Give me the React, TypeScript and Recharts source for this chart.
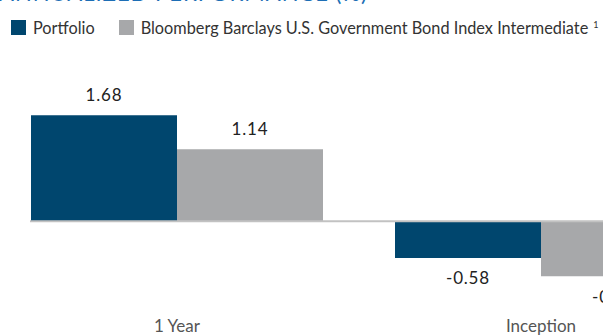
import { BarChart, Bar, XAxis, YAxis, ReferenceLine, LabelList } from 'recharts'

const periods = ['1 Year', 'Inception']
const portfolio = [1.68, -0.58]
const benchmark = [1.14, -0.87]
const seriesNames = ['Portfolio', 'Bloomberg Barclays U.S. Government Bond Index Intermediate']
const seriesColors = ['#00466e', '#a7a8aa']
const title = 'ANNUALIZED PERFORMANCE (%)'

const data = periods.map((p, i) => ({ period: p, portfolio: portfolio[i], benchmark: benchmark[i] }))

const FONT = 'Lato, "Noto Sans", sans-serif'

function ValueLabel(props: any) {
  const { x, y, width, height, value } = props
  const top = Math.min(y, y + height)
  const bottom = Math.max(y, y + height)
  const cy = value >= 0 ? top - 21 : bottom + 20
  return (
    <text x={x + width / 2} y={cy} textAnchor="middle" dominantBaseline="central"
      fill="#222" fontSize={17} fontFamily={FONT} letterSpacing={0.8}>
      {value.toFixed(2)}
    </text>
  )
}

export default function App() {
  return (
    <div style={{ position: 'fixed', left: 0, top: 0, width: 603, height: 335, overflow: 'hidden', background: '#fff', fontFamily: FONT }}>
      <div style={{ position: 'absolute', left: -1, top: -21, fontSize: 22, color: '#1d6eb5', letterSpacing: 1, whiteSpace: 'nowrap' }}>
        {title}
      </div>
      <div style={{ position: 'absolute', left: 11, top: 18, display: 'flex', alignItems: 'center', whiteSpace: 'nowrap', fontSize: 16.3, color: '#333' }}>
        {seriesNames.map((n, i) => (
          <div key={n} style={{ display: 'flex', alignItems: 'center', marginRight: 24 }}>
            <span style={{ width: 15, height: 15, background: seriesColors[i], display: 'inline-block', marginRight: 7 }} />
            <span>{n}{i === 1 ? <sup style={{ fontSize: 9, marginLeft: 5 }}>1</sup> : null}</span>
          </div>
        ))}
      </div>
      <BarChart width={723} height={356} data={data} margin={{ top: 95, right: 0, left: 30, bottom: 0 }}
        barCategoryGap={36} barGap={0}>
        <YAxis hide domain={[-1.5, 2]} />
        <XAxis dataKey="period" axisLine={false} tickLine={false} tickSize={0} tickMargin={4} height={40}
          padding={{ left: -35, right: 0 }} interval={0}
          tick={{ fill: '#555', fontSize: 17, fontFamily: FONT }} />
        <Bar dataKey="portfolio" fill={seriesColors[0]} isAnimationActive={false}>
          <LabelList dataKey="portfolio" content={ValueLabel} />
        </Bar>
        <Bar dataKey="benchmark" fill={seriesColors[1]} isAnimationActive={false}>
          <LabelList dataKey="benchmark" content={ValueLabel} />
        </Bar>
        <ReferenceLine y={0} stroke="#c2c2c2" strokeWidth={2} />
      </BarChart>
    </div>
  )
}
